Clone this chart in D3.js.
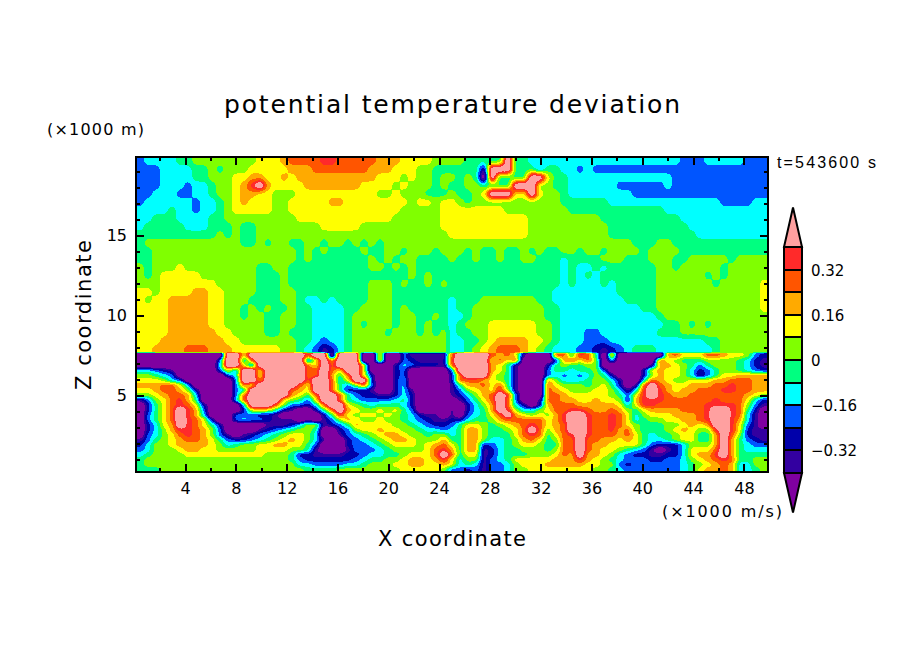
<!DOCTYPE html>
<html>
<head>
<meta charset="utf-8">
<script src="https://cdn.jsdelivr.net/npm/d3@7"></script>
<style>
    html, body { margin: 0; background: #fff; }
    text { font-family: "DejaVu Sans", sans-serif; fill: #000; }
</style>
</head>
<body>
<div id="chart"></div>
<script>
// Contour levels and the colour of each band (lowest band first)
const LEVELS = [-0.40, -0.32, -0.24, -0.16, -0.08, 0, 0.08, 0.16, 0.24, 0.32, 0.40];
const BAND_COLORS = ['#7f00a0', '#3300a0', '#0000aa', '#0055ff', '#00ffff', '#00ff80', '#80ff00', '#ffff00', '#ffaa00', '#ff5500', '#ff2a2a', '#ffa0a0'];
const BAND_KEYS = 'abcdefghijkl';   // a = below -0.40 ... l = above 0.40
// the two open-ended bands go well past the last level
const BAND_VALUES = [-0.58, -0.36, -0.28, -0.20, -0.12, -0.04, 0.04, 0.12, 0.20, 0.28, 0.36, 0.58];

const X_MAJOR = [4, 8, 12, 16, 20, 24, 28, 32, 36, 40, 44, 48];
const X_MINOR = [2, 6, 10, 14, 18, 22, 26, 30, 34, 38, 42, 46];
const Z_MAJOR = [5, 10, 15];
const Z_MINOR = [1, 2, 3, 4, 6, 7, 8, 9, 11, 12, 13, 14, 16, 17, 18, 19];
const BAR_LABELS = [[0.32, '0.32'], [0.16, '0.16'], [0, '0'], [-0.16, '\u22120.16'], [-0.32, '\u22120.32']];

// Field, one key per cell. Above the inversion (top rows first), west part
const aloftWest = [
    'deeeeffgggggggghhhijjjjkkjjjjjiiihhhhggg',
    'dddeeeeffgfggghhhhhiiijjjjjjjiiihhhggfff',
    'dddeeeeffggghhiihhihiiiiiiiiiihhhghggfgg',
    'dddeeedeefgghiklihhhhiiiiiiihhhhghgggfgf',
    'ddeeeddeefgghiihhggghhhhhhhhhhgghgggfffg',
    'deeeeeedeefghihhhgghhhhhiihhhhhhhhghhghh',
    'eeeefeedeefghhhhhgghhhhhhhhhhhhhhggggghh',
    'eefffeeeeffggggggggghhhhhhhhhhhhgggggghh',
    'efffffeeefffgffgggggggghhhhhgggggggggghh',
    'ffffffffffgfgffggggggggggggggggggggggggh',
    'fggggggggggggffgfggffggfggfgfgfggggggggg',
    'ffggggggggggggggggggfgfgffffgffggfgggfgg',
    'ffggggggggggggggggggfgfffffffgfgfggffffg',
    'gfggghgggggggggffggffffffffffggfgfgfffff',
    'gfghhhhhgggggggfffgfffffffffffffffgfgfff',
    'ggghhhhhhhgggggfffgffffffffffgggfgffgfgf',
    'hhghhhhiihhggggfffggfffffffffgggffffffff',
    'hghhiiiiihhgggffffggfeefeffffgggfffffffe',
    'hhhhiiiiihhggfgfgffgffeeeeffggggfgfffffe',
    'hhhhiiiiihhggfggffggffeeeefgggggfggffgfe',
    'hhhhiiiiihhgggggffggffeeeefgfgggfggfgffe',
    'hhhhiiiiiihhggggffgfffeeeefggggfgggfgfge',
    'hhhiiiiiiiihhgggggggffedeefgggggggggggge',
    'hhiiiijjjiiihhhhhhggfedbcefgggggggggggge'
];
// Above the inversion, east part
const aloftEast = [
    'gffffflffeeeeeeeeeeeeeeeeeeedddeeeeeddd',
    'fffblllfffdffeededddddddddddddddddddddd',
    'fgfalffffllhffeeeeeeeeeeeeedddddddddddd',
    'fggfffflllggffeeeeeeddddddedddddddddddd',
    'ffghlllhhlhggfeeeeeeeeddddddddddddddddd',
    'gfgggggggggggffffffeeeeeeeeeeeeeeddddee',
    'hhhhhhggggggggffffffffffffeeeeeeeeeeeee',
    'hhhhhhhhhgggggggggffffffffffeeeeeeeeeee',
    'hhhhhhhhhggggggggggffffffffffeeeeeeeeee',
    'hhhhhhhhhggggggggggfffffffffffeeeeeeeee',
    'ggggggggggggggggggggggfffggffffffffffff',
    'gfgffgffgfgffggfggfggggfggggfffffffffff',
    'ffgffgffggfffeffffgggfffgggffgggggfgggg',
    'fffffffffffffefeefeffffffggfgggggfggggg',
    'fffffffffffffefefefffffffggggggfgfggggg',
    'fffffffffffffefeeefefffffgggggggfgggggh',
    'ffffffffffffeeeeeeeefffffgggggggggggggh',
    'fffgggggggffeeeeeeeeeffffgggggggggggggh',
    'ffgggggggggffeeeeeeeeeeffgggggggggggggh',
    'efgggggggggffeeeeeeeeeeeefggggggggggggg',
    'fggghhhhhhggfeeeeeeeeeeeeeffgfgfggggggg',
    'ffgghhhhhhggfeeeddeeeeeeefffggggggggggg',
    'effghiiiihhgfeeedddeeeeeeeeeeeeffgggggg',
    'efghijjjihgfeeeddcbcdefffeeeeeeefgggggg'
];
// Below the inversion (top rows first), west part
const lowWest = [
    'aaaaaaaaaaallhllllllljllalllaaiaadbbbbbj',
    'aaaaaaaaaadllejlllllldhlilllaaiaadcbbbbk',
    'aaaaaaaaaaellhdlllllljhljlllhaaacedcccbj',
    'eedcbaaaaadhdllhllllljjljhllhaaacdaaaaad',
    'ggfedaaaaaadellhllllljjlifjlhcaacdaaaaac',
    'hhhgedaaaaaadllillllljlljehllcaaceaaaaac',
    'iiijjheaaaaadjhllllljhlljfdgjdaaceaaaaab',
    'hhijjigcaaaadellllljihlljfcccbaacebaaaab',
    'gghijjieaaaadjlllllihfjlljfdccbbcecaaaab',
    'bdghjkifaaaaejllllhgfdhlljfeddddefcaaaaa',
    'acfhjkjhcaaaaellljgddcejllhgfefffecaaaaa',
    'acfhjlkidaaaachhhfcbaacfjlihgghghfdaaaab',
    'adfhjlkieaaadddccbaaaaacfkhghhghgfecbbab',
    'adfhjlkjhcaadeddcbbbababdgihgghggfedcbbc',
    'acehilkjhfcaaaaabbbceggbcdfihhhhggfedccd',
    'acegikkjigdaaaabcdefggfaacdghhihhggfeede',
    'adeghjkjigdbabcdefghhgeaabdefghiihggfgge',
    'bdfghijjihfdccdefghihgebaacdefghiihgggif',
    'cegghiiiihgefgghhiihhfdaaacddefghhhghijh',
    'deggghiihhggggghhhhggfbaaabdddefgggghjki',
    'efgggghhhhhhhhhhgggfccbbbbccdeeffghhhjlj',
    'fggggggggggggggggggfdccccccdeffgghiihikh',
    'fgggggggggggggggggggeeddddeefggghhiihhih',
    'fffggggggggggggggggggffffgggggggghhhhhgd'
];
// Below the inversion, east part
const lowEast = [
    'lllljijhbaaajjfkjfaiaaaaaaijhhhjjihhgdc',
    'llllhjhjaaaacijhjgaeaaaaajhgfffggggfecb',
    'llllihfbaaacfgffggaaaaaabiihgfdfgggfecb',
    'llllihfbaaadffeffgdaaaachihhgecdfggfedc',
    'jlllhgfbaaadededegfcaaacgihhgebdfhhiiii',
    'jjjihgfbaaaigeeefggecaaejihgghhhiijjjii',
    'fiijhjfbaaajhgggfghfcabjljihhiiijjkjjii',
    'dghihkgbaaajihggghhgebeklkihiijjjkkjjii',
    'cegijlkdaaajjihhhhhgfdhklkjiijjjjjjjihg',
    'bdfhjljdaabjjiihhihhgcikkkjjjjjjkjjjhec',
    'acegiljecacijjjiiiiihehkkjjjjjjkkkkjgdb',
    'acefilkgeeghjjkkjiijigfhiiiijjjkllkjfca',
    'adefhjlihghgikllkjjkjheghhhiiijkllkjeba',
    'ceffgijjjjjhikllkjjkjhefgghhiijkllkieba',
    'fhhgfghijkjhijllkjjkjhgfffgghihillkhdba',
    'fiigffghjljgijllkjjkijgfffghihggklkhcbb',
    'fiigfffhjkjfhjklkjjjijhfeffghhffiljgcbb',
    'fiigeefgijhfgjjljjiihihfeefghhffilifdcb',
    'fiicdefghhgffjjljiihhhhfdcccegggilifedd',
    'fiibceffgggfgjjljihhgfedbabcehhhjlifeee',
    'fhhbcefffggghjiliihgedccbbccehiikliffff',
    'eggbdefhhhhhiiikihgfedddccddeghijkjffgg',
    'efebddeghhhiiiiihhggdcddddddefghijieegg',
    'dcdbddegghhhhhhhhggfedddddddefhiijieefg'
];

(function () {
    const W = 904, H = 654;
    const NCOLS = 79;
    const F = 4;                // contouring mesh is this much finer than the read-off cells
    const X_DOMAIN = [0.14, 49.9];
    const Z_DOMAIN = [0.19, 19.875];
    const Z_INVERSION = 7.625;  // field jumps sharply here, so the rows are finer below it

    const svg = d3.select('#chart').append('svg').attr('width', W).attr('height', H).style('display', 'block');

    const x = d3.scaleLinear().domain(X_DOMAIN).range([136, 768]);
    const z = d3.scaleLinear().domain(Z_DOMAIN).range([472, 157]);

    // keys -> values on a finer mesh, softened a little so the contours do not follow the cell staircase.
    // Each layer is softened on its own so the jump at the inversion stays sharp.
    function mesh(west, east, rx, ry) {
        const width = NCOLS * F, height = west.length * F;
        const data = new Float64Array(width * height);
        west.forEach((r, j) => {
            const line = (r + east[j]).padEnd(NCOLS, 'g').slice(0, NCOLS);
            for (let i = 0; i < NCOLS; i++) {
                const v = BAND_VALUES[BAND_KEYS.indexOf(line[i])];
                for (let b = 0; b < F; b++) for (let a = 0; a < F; a++) data[(j * F + b) * width + i * F + a] = v;
            }
        });
        d3.blur2({ data, width, height }, rx, ry);
        return data;
    }
    const aloft = mesh(aloftWest, aloftEast, 0.7, 1);
    const low = mesh(lowWest, lowEast, 0.8, 0.8);
    const values = Array.from(aloft).concat(Array.from(low));
    const nRows = aloftWest.length + lowWest.length;

    // mesh coordinates -> data coordinates
    const colToX = d3.scaleLinear().domain([0, NCOLS * F]).range(X_DOMAIN);
    const rowToZ = d3.scaleLinear().domain([0, aloftWest.length * F, nRows * F]).range([Z_DOMAIN[1], Z_INVERSION, Z_DOMAIN[0]]);
    const path = d3.geoPath(d3.geoTransform({
        point(gx, gy) { this.stream.point(x(colToX(gx)), z(rowToZ(gy))); }
    }));

    const plot = svg.append('g').attr('shape-rendering', 'crispEdges');
    plot.append('rect')
        .attr('x', x(X_DOMAIN[0])).attr('y', z(Z_DOMAIN[1]))
        .attr('width', x(X_DOMAIN[1]) - x(X_DOMAIN[0])).attr('height', z(Z_DOMAIN[0]) - z(Z_DOMAIN[1]))
        .attr('fill', BAND_COLORS[0]);

    const contours = d3.contours().size([NCOLS * F, nRows * F]).thresholds(LEVELS).smooth(true)(values);
    plot.selectAll('path.band').data(contours).enter().append('path')
        .attr('class', 'band')
        .attr('d', path)
        .attr('fill', (d, i) => BAND_COLORS[i + 1]);

    // ticks all round, pointing inward
    function ticks(axisFn, scale, vals, size, tx, ty, padding) {
        const axis = axisFn(scale).tickValues(vals).tickSizeOuter(0).tickSize(-size)
            .tickPadding(padding || 0).tickFormat(padding ? d3.format('d') : '');
        const g = svg.append('g').attr('transform', `translate(${tx},${ty})`).call(axis);
        g.select('.domain').remove();
        g.selectAll('line').attr('stroke', '#000').attr('stroke-width', 2).attr('shape-rendering', 'crispEdges');
        g.selectAll('text').attr('font-size', 16).attr('font-family', '"DejaVu Sans", sans-serif').attr('fill', '#000');
        return g;
    }
    ticks(d3.axisBottom, x, X_MAJOR, 8, 0, 472, 11);
    ticks(d3.axisBottom, x, X_MINOR, 4, 0, 472);
    ticks(d3.axisTop, x, X_MAJOR, 8, 0, 157).selectAll('line').attr('y2', 8);
    ticks(d3.axisTop, x, X_MINOR, 4, 0, 157).selectAll('line').attr('y2', 4);
    ticks(d3.axisLeft, z, Z_MAJOR, 8, 136, 0, 9);
    ticks(d3.axisLeft, z, Z_MINOR, 4, 136, 0);
    ticks(d3.axisRight, z, Z_MAJOR, 8, 768, 0).selectAll('line').attr('x2', -8);
    ticks(d3.axisRight, z, Z_MINOR, 4, 768, 0).selectAll('line').attr('x2', -4);

    svg.append('rect')
        .attr('x', 136).attr('y', 157).attr('width', 632).attr('height', 315)
        .attr('fill', 'none').attr('stroke', '#000').attr('stroke-width', 2.5)
        .attr('shape-rendering', 'crispEdges');

    // colour bar
    const bar = d3.scaleLinear().domain([-0.40, 0.40]).range([473, 247]);
    const barX = d3.scaleLinear().domain([0, 1]).range([784, 802]);
    const TIP = 0.14;  // length of the end triangles in data units
    const barG = svg.append('g');
    BAND_COLORS.slice(1, -1).forEach((c, i) => {
        barG.append('rect')
            .attr('x', barX(0)).attr('width', barX(1) - barX(0))
            .attr('y', bar(LEVELS[i + 1])).attr('height', bar(LEVELS[i]) - bar(LEVELS[i + 1]))
            .attr('fill', c).attr('stroke', '#000').attr('stroke-width', 2)
            .attr('shape-rendering', 'crispEdges');
    });
    const tri = d3.line().x(d => barX(d[0])).y(d => bar(d[1]));
    barG.append('path')
        .attr('d', tri([[0, 0.40], [0.5, 0.40 + TIP], [1, 0.40]]) + 'Z')
        .attr('fill', BAND_COLORS[11]).attr('stroke', '#000').attr('stroke-width', 2);
    barG.append('path')
        .attr('d', tri([[0, -0.40], [0.5, -0.40 - TIP], [1, -0.40]]) + 'Z')
        .attr('fill', BAND_COLORS[0]).attr('stroke', '#000').attr('stroke-width', 2);
    barG.selectAll('text.lab').data(BAR_LABELS).enter().append('text')
        .attr('class', 'lab')
        .attr('x', 811).attr('y', d => bar(d[0]) + 6)
        .attr('font-size', 15)
        .text(d => d[1]);

    // titles
    function label(txt, px, py, size, len, anchor) {
        return svg.append('text')
            .attr('x', px).attr('y', py)
            .attr('font-size', size)
            .attr('text-anchor', anchor || 'start')
            .attr('textLength', len).attr('lengthAdjust', 'spacing')
            .text(txt);
    }
    label('potential temperature deviation', 452, 113, 25, 456, 'middle');
    label('(\u00d71000 m)', 47, 135, 16, 97);
    label('t=543600 s', 777, 168, 16, 99).style('font-family', '"Liberation Sans", sans-serif');
    label('(\u00d71000 m/s)', 662, 517, 16, 120);
    label('X coordinate', 452, 546, 21, 148, 'middle');
    svg.append('text')
        .attr('transform', 'translate(91,315) rotate(-90)')
        .attr('text-anchor', 'middle')
        .attr('font-size', 21)
        .attr('textLength', 150).attr('lengthAdjust', 'spacing')
        .text('Z coordinate');
})();
</script>
</body>
</html>
